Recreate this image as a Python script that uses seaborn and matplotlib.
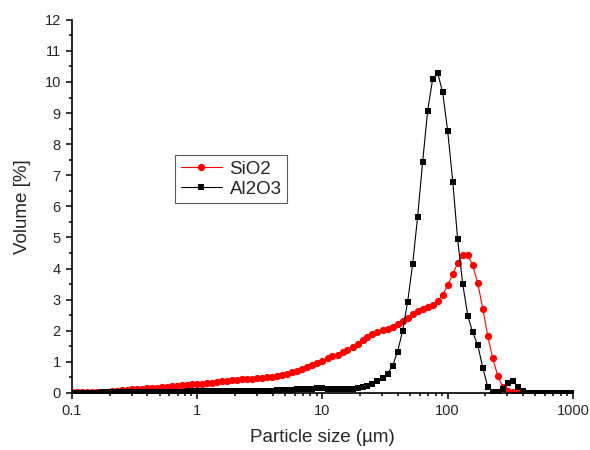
import numpy as np
import pandas as pd
import matplotlib
matplotlib.use('Agg')
import matplotlib.pyplot as plt
from matplotlib.ticker import FixedLocator, FuncFormatter, LogLocator, NullFormatter
import seaborn as sns


# particle size bins (µm), 25 bins per decade
SIZE_UM = [
    0.100, 0.110, 0.120, 0.132, 0.145, 0.158, 0.174, 0.191, 0.209, 0.229,
    0.251, 0.275, 0.302, 0.331, 0.363, 0.398, 0.437, 0.479, 0.525, 0.575,
    0.631, 0.692, 0.759, 0.832, 0.912,
    1.00, 1.10, 1.20, 1.32, 1.45, 1.58, 1.74, 1.91, 2.09, 2.29,
    2.51, 2.75, 3.02, 3.31, 3.63, 3.98, 4.37, 4.79, 5.25, 5.75,
    6.31, 6.92, 7.59, 8.32, 9.12,
    10.0, 11.0, 12.0, 13.2, 14.5, 15.8, 17.4, 19.1, 20.9, 22.9,
    25.1, 27.5, 30.2, 33.1, 36.3, 39.8, 43.7, 47.9, 52.5, 57.5,
    63.1, 69.2, 75.9, 83.2, 91.2,
    100, 110, 120, 132, 145, 158, 174, 191, 209, 229,
    251, 275, 302, 331, 363, 398, 437, 479, 525, 575,
    631, 692, 759, 832, 912,
    1000,
]

# volume fraction (%) per bin
SIO2 = [
    0.02, 0.02, 0.02, 0.02, 0.02, 0.03, 0.03, 0.04, 0.05, 0.06,
    0.08, 0.09, 0.11, 0.12, 0.13, 0.14, 0.15, 0.17, 0.18, 0.20,
    0.21, 0.22, 0.24, 0.25, 0.27,
    0.28, 0.30, 0.32, 0.33, 0.35, 0.37, 0.38, 0.40, 0.41, 0.43,
    0.44, 0.45, 0.47, 0.48, 0.50, 0.52, 0.55, 0.58, 0.62, 0.66,
    0.71, 0.77, 0.83, 0.89, 0.96,
    1.04, 1.12, 1.17, 1.23, 1.30, 1.38, 1.47, 1.58, 1.71, 1.80,
    1.90, 1.97, 2.02, 2.05, 2.11, 2.20, 2.31, 2.41, 2.54, 2.64,
    2.71, 2.76, 2.82, 2.95, 3.15,
    3.46, 3.82, 4.17, 4.42, 4.42, 4.12, 3.52, 2.70, 1.83, 1.11,
    0.55, 0.20, 0.06, 0.02, 0.00, 0.00, 0.00, 0.00, 0.00, 0.00,
    0.00, 0.00, 0.00, 0.00, 0.00,
    0.00,
]

AL2O3 = [
    0.01, 0.01, 0.01, 0.01, 0.01, 0.01, 0.02, 0.02, 0.02, 0.02,
    0.02, 0.02, 0.03, 0.03, 0.03, 0.03, 0.03, 0.03, 0.04, 0.04,
    0.04, 0.04, 0.04, 0.05, 0.05,
    0.05, 0.05, 0.06, 0.06, 0.06, 0.06, 0.06, 0.06, 0.06, 0.06,
    0.06, 0.06, 0.06, 0.07, 0.07, 0.07, 0.08, 0.08, 0.09, 0.10,
    0.11, 0.12, 0.13, 0.13, 0.14,
    0.14, 0.13, 0.12, 0.11, 0.11, 0.11, 0.12, 0.15, 0.18, 0.23,
    0.29, 0.39, 0.49, 0.62, 0.87, 1.32, 2.00, 2.93, 4.13, 5.65,
    7.42, 9.07, 10.10, 10.29, 9.67,
    8.43, 6.77, 4.96, 3.49, 2.47, 1.96, 1.53, 0.80, 0.19, 0.02,
    0.02, 0.13, 0.33, 0.38, 0.20, 0.05, 0.00, 0.00, 0.00, 0.00,
    0.00, 0.00, 0.00, 0.00, 0.00,
    0.00,
]

Y_TICKS = list(range(0, 13))
X_TICKS = [0.1, 1, 10, 100, 1000]


sns.set_style('ticks')
plt.rcParams['font.family'] = ['Liberation Sans', 'DejaVu Sans']

df = pd.DataFrame({'size': SIZE_UM, 'SiO2': SIO2, 'Al2O3': AL2O3})

fig = plt.figure(figsize=(5.9, 4.5), dpi=100)
ax = fig.add_axes([0.122, 0.127, 0.849, 0.829])

sns.lineplot(data=df, x='size', y='SiO2', ax=ax, color='#ff0000',
             marker='o', markersize=5.2, markeredgewidth=0,
             linewidth=0.8, label='SiO2', zorder=2)
sns.lineplot(data=df, x='size', y='Al2O3', ax=ax, color='black',
             marker='s', markersize=4.4, markeredgewidth=0,
             linewidth=0.8, label='Al2O3', zorder=3)

ax.set_xscale('log')
ax.set_xlim(0.1, 1000)
ax.set_ylim(0, 12)

ax.xaxis.set_major_locator(FixedLocator(X_TICKS))
ax.xaxis.set_major_formatter(FuncFormatter(lambda v, p: f'{v:g}'))
ax.xaxis.set_minor_locator(LogLocator(base=10, subs=np.arange(2, 10)))
ax.xaxis.set_minor_formatter(NullFormatter())
ax.yaxis.set_major_locator(FixedLocator(Y_TICKS))
ax.yaxis.set_minor_locator(FixedLocator([t + 0.5 for t in Y_TICKS[:-1]]))

ax.tick_params(which='major', direction='out', length=4.5, width=1.1,
               labelsize=10.5, pad=3.5, color='black')
ax.tick_params(which='minor', direction='out', length=2.4, width=1.1,
               color='black')

for side in ['top', 'right']:
    ax.spines[side].set_visible(False)
for side in ['left', 'bottom']:
    ax.spines[side].set_linewidth(1.2)
    ax.spines[side].set_color('black')

ax.set_xlabel('Particle size (µm)', fontsize=13.5, labelpad=8)
ax.set_ylabel('Volume [%]', fontsize=13.5, labelpad=10)

leg = ax.legend(loc='upper left', bbox_to_anchor=(0.206, 0.638),
                borderaxespad=0, fontsize=13.5, frameon=True, fancybox=False,
                handlelength=2.2, handletextpad=0.4, borderpad=0.3,
                labelspacing=0.15)
leg.get_frame().set_edgecolor('#333333')
leg.get_frame().set_linewidth(0.8)

fig.savefig('out.png', dpi=100)
